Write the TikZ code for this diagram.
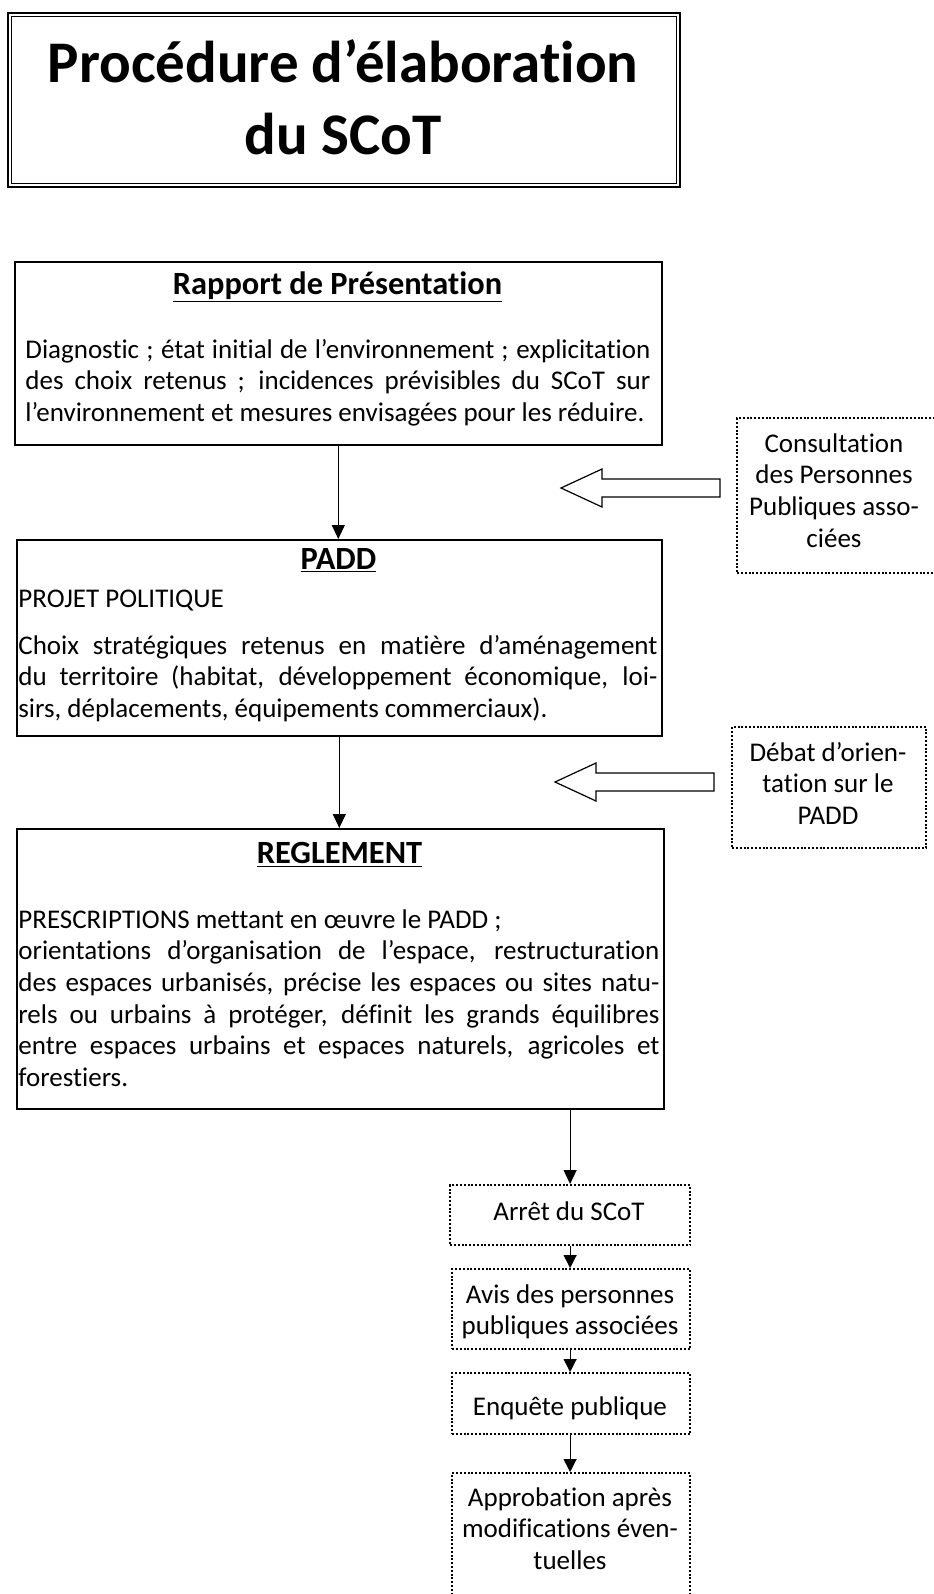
\documentclass[tikz,border=0pt]{standalone}
\usepackage{fontspec}
\setmainfont{Carlito}[Ligatures={NoCommon}]
\usetikzlibrary{arrows.meta}
\hyphenpenalty=10000

\begin{document}
\begin{tikzpicture}[x=0.5pt, y=-0.5pt,
    every node/.style={inner sep=0pt, font=\fontsize{13.5pt}{15.85pt}\selectfont},
    bloc/.style={draw, line width=0.8pt, anchor=north west},
    pointille/.style={draw, line width=1.1pt, dash pattern=on 1pt off 0.9pt, anchor=north west},
    texte/.style={anchor=base west, align=justify},
    titre/.style={anchor=base, align=flush center, text width=300pt, font=\fontsize{16.2pt}{19pt}\selectfont\bfseries},
    centre/.style={anchor=base, align=flush center, text width=116pt},
    fleche/.style={-{Triangle[length=7pt, width=6.5pt]}, line width=0.6pt},
    petite/.style={-{Triangle[length=6.5pt, width=6.5pt]}, line width=0.6pt},
    creuse/.style={draw, line width=0.6pt}]
  \useasboundingbox (0,0) rectangle (933,1594);

  % titre
  \node[draw, line width=1.2pt, anchor=north west, minimum width=336pt, minimum height=87pt] (cadre) at (7,12) {};
  \draw[line width=0.5pt] ([shift={(4.5,4.5)}]cadre.north west) rectangle ([shift={(-4.5,-4.5)}]cadre.south east);
  \node[anchor=base, align=flush center, text width=330pt, font=\fontsize{29.5pt}{36pt}\selectfont\bfseries] (titre) at (343,83) {Procédure d’élaboration\\du SCoT};

  % les trois pieces
  \node[bloc, minimum width=323.5pt, minimum height=91.5pt] (rapport) at (14,261) {};
  \node[titre] (trapport) at (337.5,294) {\underline{Rapport de Présentation}};
  \node[texte, text width=312.5pt] (drapport) at (25,358) {Diagnostic ; état initial de l’environnement ; explicitation\linebreak des choix retenus ; incidences prévisibles du SCoT sur\linebreak l’environnement et mesures envisagées pour les réduire.};

  \node[bloc, minimum width=322.5pt, minimum height=98pt] (padd) at (16,539) {};
  \node[titre] (tpadd) at (338.5,569) {\underline{PADD}};
  \node[texte, text width=319.5pt] (projet) at (18,607) {PROJET POLITIQUE};
  \node[texte, text width=319.5pt] (dpadd) at (18,654) {Choix stratégiques retenus en matière d’aménagement\linebreak du territoire (habitat, développement économique, loi-\linebreak sirs, déplacements, équipements commerciaux).};

  \node[bloc, minimum width=323.5pt, minimum height=140pt] (reglement) at (16,828) {};
  \node[titre] (treglement) at (339.5,863) {\underline{REGLEMENT}};
  \node[texte, text width=320.5pt] (dreglement) at (18,928) {PRESCRIPTIONS mettant en œuvre le PADD ;\\orientations d’organisation de l’espace, restructuration\linebreak des espaces urbanisés, précise les espaces ou sites natu-\linebreak rels ou urbains à protéger, définit les grands équilibres\linebreak entre espaces urbains et espaces naturels, agricoles et\linebreak forestiers.};

  % consultations
  \node[pointille, minimum width=99pt, minimum height=77.5pt] (consultation) at (736,417) {};
  \node[centre, text width=95pt] (tconsultation) at (834,452) {Consultation\\des Personnes\\Publiques asso-\\ciées};
  \node[pointille, minimum width=97pt, minimum height=60.5pt] (debat) at (731,726) {};
  \node[centre, text width=95pt] (tdebat) at (828,761) {Débat d’orien-\\tation sur le\\PADD};
  \coordinate (pointe1) at (561,488);
  \coordinate (pointe2) at (555,782);
  \draw[creuse] (pointe1) -- ++(41,-19) -- ++(0,10) -- ++(118,0) -- ++(0,18) -- ++(-118,0) -- ++(0,10) -- cycle;
  \draw[creuse] (pointe2) -- ++(41,-19) -- ++(0,10) -- ++(118,0) -- ++(0,18) -- ++(-118,0) -- ++(0,10) -- cycle;

  % suite de la procedure
  \node[pointille, minimum width=120pt, minimum height=30pt] (arret) at (449,1184) {};
  \node[centre] (tarret) at (569,1220) {Arrêt du SCoT};
  \node[pointille, minimum width=119pt, minimum height=40pt] (avis) at (451,1268) {};
  \node[centre] (tavis) at (570,1303) {Avis des personnes\\publiques associées};
  \node[pointille, minimum width=119pt, minimum height=30.5pt] (enquete) at (451,1372) {};
  \node[centre] (tenquete) at (570,1415) {Enquête publique};
  \node[pointille, minimum width=119pt, minimum height=69pt] (approbation) at (451,1472) {};
  \node[centre] (tapprobation) at (570,1506) {Approbation après\\modifications éven-\\tuelles};

  \draw[fleche] (rapport.south) -- (rapport.south |- padd.north);
  \draw[fleche] (padd.south) -- (padd.south |- reglement.north);
  \draw[fleche] (reglement.south -| arret.north) -- (arret.north);
  \draw[petite] (arret.south) -- (arret.south |- avis.north);
  \draw[petite] (avis.south -| arret.south) -- (arret.south |- enquete.north);
  \draw[petite] (enquete.south -| arret.south) -- (arret.south |- approbation.north);
\end{tikzpicture}
\end{document}
